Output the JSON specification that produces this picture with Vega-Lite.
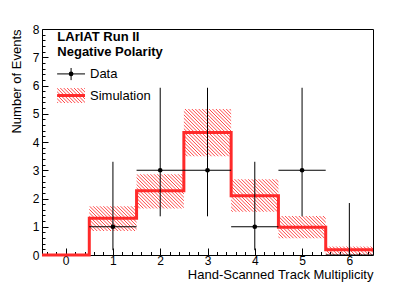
{
"$schema":"https://vega.github.io/schema/vega-lite/v6.json",
"width":331,"height":226,
"autosize":{"type":"none"},
"padding":{"left":42,"top":29,"right":42,"bottom":28},
"background":"white",
"config":{
 "view":{"stroke":"#000","strokeWidth":1},
 "font":"Liberation Sans",
 "axis":{"labelColor":"#000","titleColor":"#000","tickColor":"#000","tickWidth":1,"domain":false,"grid":false,"labelFontSize":12,"titleFontSize":13,"titleFontWeight":"normal","labelOverlap":false,"labelFlush":false,"labelBound":false}
},
"resolve":{"axis":{"x":"independent","y":"independent"}},
"datasets":{
 "band":[
  {"edge":0.5,"lo":0.85,"hi":1.73},
  {"edge":1.5,"lo":1.65,"hi":2.86},
  {"edge":2.5,"lo":3.5,"hi":5.17},
  {"edge":3.5,"lo":1.53,"hi":2.68},
  {"edge":4.5,"lo":0.59,"hi":1.38},
  {"edge":5.5,"lo":0,"hi":0.3},
  {"edge":6.5,"lo":0,"hi":0.3}
 ],
 "sim":[
  {"edge":-0.5,"val":0},{"edge":0.5,"val":1.3},{"edge":1.5,"val":2.27},{"edge":2.5,"val":4.34},
  {"edge":3.5,"val":2.1},{"edge":4.5,"val":0.98},{"edge":5.5,"val":0.19},{"edge":6.5,"val":0.19}
 ],
 "obs":[
  {"n":1,"xlo":0.5,"xhi":1.5,"count":1,"elo":0.17,"ehi":3.3},
  {"n":2,"xlo":1.5,"xhi":2.5,"count":3,"elo":1.37,"ehi":5.92},
  {"n":3,"xlo":2.5,"xhi":3.5,"count":3,"elo":1.37,"ehi":5.92},
  {"n":4,"xlo":3.5,"xhi":4.5,"count":1,"elo":0.17,"ehi":3.3},
  {"n":5,"xlo":4.5,"xhi":5.5,"count":3,"elo":1.37,"ehi":5.92},
  {"n":6,"xlo":5.5,"xhi":6.5,"count":0,"elo":0,"ehi":1.84}
 ],
 "legbox":[{"x1":-0.18,"x2":0.41,"y1":5.38,"y2":5.91,"ym":5.645}],
 "legmark":[{"x1":-0.18,"x2":0.41,"xc":0.115,"y":6.41,"ylo":6.19,"yhi":6.62}],
 "header":[{"x":-0.176,"y":7.71,"label":"LArIAT Run II"},{"x":-0.176,"y":7.2,"label":"Negative Polarity"}],
 "entries":[{"x":0.515,"y":6.41,"label":"Data"},{"x":0.515,"y":5.63,"label":"Simulation"}]
},
"layer":[
 {
  "data":{"name":"band"},
  "mark":{"type":"area","interpolate":"step-after","fill":{"gradient":"linear","x1":0,"y1":1,"x2":1.1975,"y2":0.3836,"stops":[
{"offset":0.04,"color":"#f440"},{"offset":0.0423,"color":"#f44"},{"offset":0.0446,"color":"#f440"},
{"offset":0.048,"color":"#f440"},{"offset":0.0503,"color":"#f44"},{"offset":0.0526,"color":"#f440"},
{"offset":0.056,"color":"#f440"},{"offset":0.0583,"color":"#f44"},{"offset":0.0606,"color":"#f440"},
{"offset":0.064,"color":"#f440"},{"offset":0.0663,"color":"#f44"},{"offset":0.0686,"color":"#f440"},
{"offset":0.072,"color":"#f440"},{"offset":0.0743,"color":"#f44"},{"offset":0.0766,"color":"#f440"},
{"offset":0.08,"color":"#f440"},{"offset":0.0823,"color":"#f44"},{"offset":0.0846,"color":"#f440"},
{"offset":0.088,"color":"#f440"},{"offset":0.0903,"color":"#f44"},{"offset":0.0926,"color":"#f440"},
{"offset":0.096,"color":"#f440"},{"offset":0.0983,"color":"#f44"},{"offset":0.1006,"color":"#f440"},
{"offset":0.104,"color":"#f440"},{"offset":0.1063,"color":"#f44"},{"offset":0.1086,"color":"#f440"},
{"offset":0.112,"color":"#f440"},{"offset":0.1143,"color":"#f44"},{"offset":0.1166,"color":"#f440"},
{"offset":0.12,"color":"#f440"},{"offset":0.1223,"color":"#f44"},{"offset":0.1246,"color":"#f440"},
{"offset":0.128,"color":"#f440"},{"offset":0.1303,"color":"#f44"},{"offset":0.1326,"color":"#f440"},
{"offset":0.136,"color":"#f440"},{"offset":0.1383,"color":"#f44"},{"offset":0.1406,"color":"#f440"},
{"offset":0.144,"color":"#f440"},{"offset":0.1463,"color":"#f44"},{"offset":0.1486,"color":"#f440"},
{"offset":0.152,"color":"#f440"},{"offset":0.1543,"color":"#f44"},{"offset":0.1566,"color":"#f440"},
{"offset":0.16,"color":"#f440"},{"offset":0.1623,"color":"#f44"},{"offset":0.1646,"color":"#f440"},
{"offset":0.168,"color":"#f440"},{"offset":0.1703,"color":"#f44"},{"offset":0.1726,"color":"#f440"},
{"offset":0.176,"color":"#f440"},{"offset":0.1783,"color":"#f44"},{"offset":0.1806,"color":"#f440"},
{"offset":0.184,"color":"#f440"},{"offset":0.1863,"color":"#f44"},{"offset":0.1886,"color":"#f440"},
{"offset":0.192,"color":"#f440"},{"offset":0.1943,"color":"#f44"},{"offset":0.1966,"color":"#f440"},
{"offset":0.2,"color":"#f440"},{"offset":0.2023,"color":"#f44"},{"offset":0.2046,"color":"#f440"},
{"offset":0.208,"color":"#f440"},{"offset":0.2103,"color":"#f44"},{"offset":0.2126,"color":"#f440"},
{"offset":0.216,"color":"#f440"},{"offset":0.2183,"color":"#f44"},{"offset":0.2206,"color":"#f440"},
{"offset":0.224,"color":"#f440"},{"offset":0.2263,"color":"#f44"},{"offset":0.2286,"color":"#f440"},
{"offset":0.232,"color":"#f440"},{"offset":0.2343,"color":"#f44"},{"offset":0.2366,"color":"#f440"},
{"offset":0.24,"color":"#f440"},{"offset":0.2423,"color":"#f44"},{"offset":0.2446,"color":"#f440"},
{"offset":0.248,"color":"#f440"},{"offset":0.2503,"color":"#f44"},{"offset":0.2526,"color":"#f440"},
{"offset":0.256,"color":"#f440"},{"offset":0.2583,"color":"#f44"},{"offset":0.2606,"color":"#f440"},
{"offset":0.264,"color":"#f440"},{"offset":0.2663,"color":"#f44"},{"offset":0.2686,"color":"#f440"},
{"offset":0.272,"color":"#f440"},{"offset":0.2743,"color":"#f44"},{"offset":0.2766,"color":"#f440"},
{"offset":0.28,"color":"#f440"},{"offset":0.2823,"color":"#f44"},{"offset":0.2846,"color":"#f440"},
{"offset":0.288,"color":"#f440"},{"offset":0.2903,"color":"#f44"},{"offset":0.2926,"color":"#f440"},
{"offset":0.296,"color":"#f440"},{"offset":0.2983,"color":"#f44"},{"offset":0.3006,"color":"#f440"},
{"offset":0.304,"color":"#f440"},{"offset":0.3063,"color":"#f44"},{"offset":0.3086,"color":"#f440"},
{"offset":0.312,"color":"#f440"},{"offset":0.3143,"color":"#f44"},{"offset":0.3166,"color":"#f440"},
{"offset":0.32,"color":"#f440"},{"offset":0.3223,"color":"#f44"},{"offset":0.3246,"color":"#f440"},
{"offset":0.328,"color":"#f440"},{"offset":0.3303,"color":"#f44"},{"offset":0.3326,"color":"#f440"},
{"offset":0.336,"color":"#f440"},{"offset":0.3383,"color":"#f44"},{"offset":0.3406,"color":"#f440"},
{"offset":0.344,"color":"#f440"},{"offset":0.3463,"color":"#f44"},{"offset":0.3486,"color":"#f440"},
{"offset":0.352,"color":"#f440"},{"offset":0.3543,"color":"#f44"},{"offset":0.3566,"color":"#f440"},
{"offset":0.36,"color":"#f440"},{"offset":0.3623,"color":"#f44"},{"offset":0.3646,"color":"#f440"},
{"offset":0.368,"color":"#f440"},{"offset":0.3703,"color":"#f44"},{"offset":0.3726,"color":"#f440"},
{"offset":0.376,"color":"#f440"},{"offset":0.3783,"color":"#f44"},{"offset":0.3806,"color":"#f440"},
{"offset":0.384,"color":"#f440"},{"offset":0.3863,"color":"#f44"},{"offset":0.3886,"color":"#f440"},
{"offset":0.392,"color":"#f440"},{"offset":0.3943,"color":"#f44"},{"offset":0.3966,"color":"#f440"},
{"offset":0.4,"color":"#f440"},{"offset":0.4023,"color":"#f44"},{"offset":0.4046,"color":"#f440"},
{"offset":0.408,"color":"#f440"},{"offset":0.4103,"color":"#f44"},{"offset":0.4126,"color":"#f440"},
{"offset":0.416,"color":"#f440"},{"offset":0.4183,"color":"#f44"},{"offset":0.4206,"color":"#f440"},
{"offset":0.424,"color":"#f440"},{"offset":0.4263,"color":"#f44"},{"offset":0.4286,"color":"#f440"},
{"offset":0.432,"color":"#f440"},{"offset":0.4343,"color":"#f44"},{"offset":0.4366,"color":"#f440"},
{"offset":0.44,"color":"#f440"},{"offset":0.4423,"color":"#f44"},{"offset":0.4446,"color":"#f440"},
{"offset":0.448,"color":"#f440"},{"offset":0.4503,"color":"#f44"},{"offset":0.4526,"color":"#f440"},
{"offset":0.456,"color":"#f440"},{"offset":0.4583,"color":"#f44"},{"offset":0.4606,"color":"#f440"},
{"offset":0.464,"color":"#f440"},{"offset":0.4663,"color":"#f44"},{"offset":0.4686,"color":"#f440"},
{"offset":0.472,"color":"#f440"},{"offset":0.4743,"color":"#f44"},{"offset":0.4766,"color":"#f440"},
{"offset":0.48,"color":"#f440"},{"offset":0.4823,"color":"#f44"},{"offset":0.4846,"color":"#f440"},
{"offset":0.488,"color":"#f440"},{"offset":0.4903,"color":"#f44"},{"offset":0.4926,"color":"#f440"},
{"offset":0.496,"color":"#f440"},{"offset":0.4983,"color":"#f44"},{"offset":0.5006,"color":"#f440"},
{"offset":0.504,"color":"#f440"},{"offset":0.5063,"color":"#f44"},{"offset":0.5086,"color":"#f440"},
{"offset":0.512,"color":"#f440"},{"offset":0.5143,"color":"#f44"},{"offset":0.5166,"color":"#f440"},
{"offset":0.52,"color":"#f440"},{"offset":0.5223,"color":"#f44"},{"offset":0.5246,"color":"#f440"},
{"offset":0.528,"color":"#f440"},{"offset":0.5303,"color":"#f44"},{"offset":0.5326,"color":"#f440"},
{"offset":0.536,"color":"#f440"},{"offset":0.5383,"color":"#f44"},{"offset":0.5406,"color":"#f440"},
{"offset":0.544,"color":"#f440"},{"offset":0.5463,"color":"#f44"},{"offset":0.5486,"color":"#f440"},
{"offset":0.552,"color":"#f440"},{"offset":0.5543,"color":"#f44"},{"offset":0.5566,"color":"#f440"},
{"offset":0.56,"color":"#f440"},{"offset":0.5623,"color":"#f44"},{"offset":0.5646,"color":"#f440"},
{"offset":0.568,"color":"#f440"},{"offset":0.5703,"color":"#f44"},{"offset":0.5726,"color":"#f440"},
{"offset":0.576,"color":"#f440"},{"offset":0.5783,"color":"#f44"},{"offset":0.5806,"color":"#f440"},
{"offset":0.584,"color":"#f440"},{"offset":0.5863,"color":"#f44"},{"offset":0.5886,"color":"#f440"},
{"offset":0.592,"color":"#f440"},{"offset":0.5943,"color":"#f44"},{"offset":0.5966,"color":"#f440"},
{"offset":0.6,"color":"#f440"},{"offset":0.6023,"color":"#f44"},{"offset":0.6046,"color":"#f440"},
{"offset":0.608,"color":"#f440"},{"offset":0.6103,"color":"#f44"},{"offset":0.6126,"color":"#f440"},
{"offset":0.616,"color":"#f440"},{"offset":0.6183,"color":"#f44"},{"offset":0.6206,"color":"#f440"},
{"offset":0.624,"color":"#f440"},{"offset":0.6263,"color":"#f44"},{"offset":0.6286,"color":"#f440"},
{"offset":0.632,"color":"#f440"},{"offset":0.6343,"color":"#f44"},{"offset":0.6366,"color":"#f440"},
{"offset":0.64,"color":"#f440"},{"offset":0.6423,"color":"#f44"},{"offset":0.6446,"color":"#f440"},
{"offset":0.648,"color":"#f440"},{"offset":0.6503,"color":"#f44"},{"offset":0.6526,"color":"#f440"},
{"offset":0.656,"color":"#f440"},{"offset":0.6583,"color":"#f44"},{"offset":0.6606,"color":"#f440"},
{"offset":0.664,"color":"#f440"},{"offset":0.6663,"color":"#f44"},{"offset":0.6686,"color":"#f440"},
{"offset":0.672,"color":"#f440"},{"offset":0.6743,"color":"#f44"},{"offset":0.6766,"color":"#f440"},
{"offset":0.68,"color":"#f440"},{"offset":0.6823,"color":"#f44"},{"offset":0.6846,"color":"#f440"},
{"offset":0.688,"color":"#f440"},{"offset":0.6903,"color":"#f44"},{"offset":0.6926,"color":"#f440"},
{"offset":0.696,"color":"#f440"},{"offset":0.6983,"color":"#f44"},{"offset":0.7006,"color":"#f440"}
]}},
  "encoding":{
   "x":{"field":"edge","type":"quantitative","scale":{"domain":[-0.5,6.5],"nice":false,"zero":false},
    "axis":{"orient":"bottom","title":"Hand-Scanned Track Multiplicity","titleAnchor":"end","titlePadding":2,"labelPadding":7,"format":"d","tickSize":-7,
     "values":[0,1,2,3,4,5,6]}},
   "y":{"field":"hi","type":"quantitative","scale":{"domain":[0,8],"nice":false,"zero":false},
    "axis":{"orient":"left","title":"Number of Events","titleAnchor":"end","titlePadding":9,"labelPadding":9,"format":"d","tickSize":-6,
     "values":[0,1,2,3,4,5,6,7,8]}},
   "y2":{"field":"lo"}
  }
 },
 {
  "data":{"name":"sim"},
  "mark":{"type":"line","interpolate":"step-after","color":"#ff2a2a","strokeWidth":3},
  "encoding":{
   "x":{"field":"edge","type":"quantitative","axis":{"orient":"bottom","title":null,"labels":false,"tickSize":-3.5,
     "values":[-0.4,-0.2,0.2,0.4,0.6,0.8,1.2,1.4,1.6,1.8,2.2,2.4,2.6,2.8,3.2,3.4,3.6,3.8,4.2,4.4,4.6,4.8,5.2,5.4,5.6,5.8,6.2,6.4]}},
   "y":{"field":"val","type":"quantitative","axis":{"orient":"left","title":null,"labels":false,"tickSize":-3,
     "values":[0.2,0.4,0.6,0.8,1.2,1.4,1.6,1.8,2.2,2.4,2.6,2.8,3.2,3.4,3.6,3.8,4.2,4.4,4.6,4.8,5.2,5.4,5.6,5.8,6.2,6.4,6.6,6.8,7.2,7.4,7.6,7.8]}}
  }
 },
 {
  "data":{"name":"obs"},
  "mark":{"type":"rule","color":"#000","strokeWidth":1},
  "encoding":{
   "x":{"field":"xlo","type":"quantitative","axis":null},
   "x2":{"field":"xhi"},
   "y":{"field":"count","type":"quantitative","axis":null}
  }
 },
 {
  "data":{"name":"obs"},
  "mark":{"type":"rule","color":"#000","strokeWidth":1},
  "encoding":{
   "x":{"field":"n","type":"quantitative","axis":null},
   "y":{"field":"elo","type":"quantitative","axis":null},
   "y2":{"field":"ehi"}
  }
 },
 {
  "data":{"name":"obs"},
  "transform":[{"filter":"datum.count > 0"}],
  "mark":{"type":"point","filled":true,"color":"#000","size":22,"opacity":1},
  "encoding":{
   "x":{"field":"n","type":"quantitative","axis":null},
   "y":{"field":"count","type":"quantitative","axis":null}
  }
 },
 {
  "data":{"name":"legbox"},
  "mark":{"type":"rect","fill":{"gradient":"linear","x1":0,"y1":1,"x2":1.193,"y2":0.36,"stops":[
{"offset":0,"color":"#f440"},{"offset":0.023,"color":"#f44"},{"offset":0.046,"color":"#f440"},
{"offset":0.08,"color":"#f440"},{"offset":0.103,"color":"#f44"},{"offset":0.126,"color":"#f440"},
{"offset":0.16,"color":"#f440"},{"offset":0.183,"color":"#f44"},{"offset":0.206,"color":"#f440"},
{"offset":0.24,"color":"#f440"},{"offset":0.263,"color":"#f44"},{"offset":0.286,"color":"#f440"},
{"offset":0.32,"color":"#f440"},{"offset":0.343,"color":"#f44"},{"offset":0.366,"color":"#f440"},
{"offset":0.4,"color":"#f440"},{"offset":0.423,"color":"#f44"},{"offset":0.446,"color":"#f440"},
{"offset":0.48,"color":"#f440"},{"offset":0.503,"color":"#f44"},{"offset":0.526,"color":"#f440"},
{"offset":0.56,"color":"#f440"},{"offset":0.583,"color":"#f44"},{"offset":0.606,"color":"#f440"},
{"offset":0.64,"color":"#f440"},{"offset":0.663,"color":"#f44"},{"offset":0.686,"color":"#f440"},
{"offset":0.72,"color":"#f440"},{"offset":0.743,"color":"#f44"},{"offset":0.766,"color":"#f440"},
{"offset":0.8,"color":"#f440"},{"offset":0.823,"color":"#f44"},{"offset":0.846,"color":"#f440"},
{"offset":0.88,"color":"#f440"},{"offset":0.903,"color":"#f44"},{"offset":0.926,"color":"#f440"},
{"offset":0.96,"color":"#f440"},{"offset":0.983,"color":"#f44"},{"offset":1,"color":"#f440"}
]}},
  "encoding":{
   "x":{"field":"x1","type":"quantitative","axis":null},
   "x2":{"field":"x2"},
   "y":{"field":"y1","type":"quantitative","axis":null},
   "y2":{"field":"y2"}
  }
 },
 {
  "data":{"name":"legbox"},
  "mark":{"type":"rule","color":"#ff2a2a","strokeWidth":3},
  "encoding":{
   "x":{"field":"x1","type":"quantitative","axis":null},
   "x2":{"field":"x2"},
   "y":{"field":"ym","type":"quantitative","axis":null}
  }
 },
 {
  "data":{"name":"legmark"},
  "mark":{"type":"rule","color":"#000","strokeWidth":1},
  "encoding":{
   "x":{"field":"x1","type":"quantitative","axis":null},
   "x2":{"field":"x2"},
   "y":{"field":"y","type":"quantitative","axis":null}
  }
 },
 {
  "data":{"name":"legmark"},
  "mark":{"type":"rule","color":"#000","strokeWidth":1},
  "encoding":{
   "x":{"field":"xc","type":"quantitative","axis":null},
   "y":{"field":"ylo","type":"quantitative","axis":null},
   "y2":{"field":"yhi"}
  }
 },
 {
  "data":{"name":"legmark"},
  "mark":{"type":"point","filled":true,"color":"#000","size":22,"opacity":1},
  "encoding":{
   "x":{"field":"xc","type":"quantitative","axis":null},
   "y":{"field":"y","type":"quantitative","axis":null}
  }
 },
 {
  "data":{"name":"header"},
  "mark":{"type":"text","align":"left","baseline":"middle","fontSize":13,"fontWeight":"bold","color":"#000"},
  "encoding":{
   "x":{"field":"x","type":"quantitative","axis":null},
   "y":{"field":"y","type":"quantitative","axis":null},
   "text":{"field":"label"}
  }
 },
 {
  "data":{"name":"entries"},
  "mark":{"type":"text","align":"left","baseline":"middle","fontSize":13,"color":"#000"},
  "encoding":{
   "x":{"field":"x","type":"quantitative","axis":null},
   "y":{"field":"y","type":"quantitative","axis":null},
   "text":{"field":"label"}
  }
 }
]
}
